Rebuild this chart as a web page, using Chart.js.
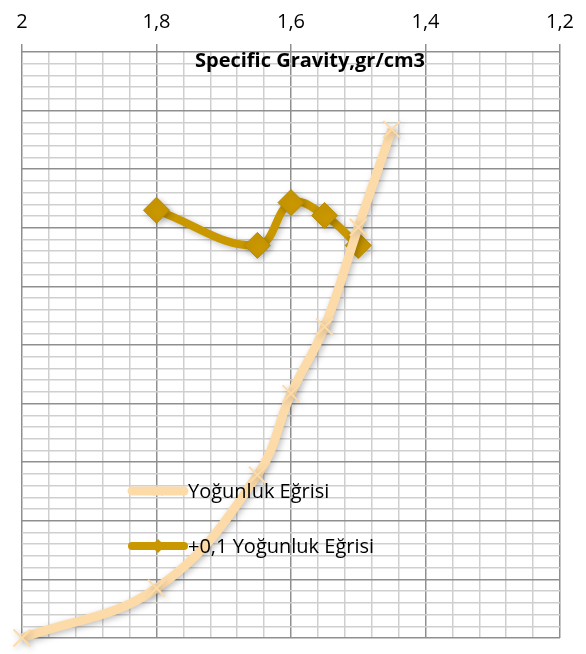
<!DOCTYPE html>
<html>
<head>
<meta charset="utf-8">
<script src="https://cdn.jsdelivr.net/npm/chart.js@4/dist/chart.umd.min.js"></script>
<style>
  body { margin: 0; background: #fff; }
  canvas { display: block; }
</style>
</head>
<body>
<canvas id="sgChart" width="586" height="654"></canvas>
<script>
// series names and values
const seriesNames = ['Yoğunluk Eğrisi', '+0,1 Yoğunluk Eğrisi'];
const densityX = [2, 1.8, 1.65, 1.6, 1.55, 1.5, 1.45];
const densityY = [0, 8.5, 27.8, 41.7, 53.1, 70.1, 86.8];
const plusX = [1.8, 1.65, 1.6, 1.55, 1.5];
const plusY = [73, 67, 74.3, 72.1, 67];
const xTicks = [2, 1.8, 1.6, 1.4, 1.2];
const axisTitle = 'Specific Gravity,gr/cm3';

const peach = '#FDDBA9';
const gold = '#C99700';
const majorGrid = '#8f8f8f';
const minorGrid = '#cfcfcf';

function isMajorX(v) {
  return xTicks.some(t => Math.abs(t - v) < 1e-6);
}

function toPoints(xs, ys) {
  return xs.map((x, i) => ({ x: x, y: ys[i] }));
}

// shadow under the lines and markers
const shadowPlugin = {
  id: 'shadow',
  beforeDatasetsDraw(chart) {
    const ctx = chart.ctx;
    ctx.save();
    ctx.shadowColor = 'rgba(0,0,0,0.25)';
    ctx.shadowBlur = 6;
    ctx.shadowOffsetX = 2;
    ctx.shadowOffsetY = 2;
  },
  afterDatasetsDraw(chart) {
    chart.ctx.restore();
  }
};

// axis title and legend drawn inside the plot area
const overlayPlugin = {
  id: 'overlay',
  afterDraw(chart) {
    const ctx = chart.ctx;
    ctx.save();
    ctx.fillStyle = '#000';
    ctx.font = 'bold 20px "Open Sans"';
    ctx.textAlign = 'center';
    ctx.textBaseline = 'middle';
    ctx.fillText(axisTitle, 310, 61);

    const rows = [
      { y: 491, color: peach, style: 'crossRot', r: 6, width: 9 },
      { y: 546, color: gold, style: 'rectRot', r: 6, width: 8 }
    ];
    rows.forEach((row, i) => {
      ctx.strokeStyle = row.color;
      ctx.lineWidth = row.width;
      ctx.lineCap = 'round';
      ctx.beginPath();
      ctx.moveTo(132, row.y);
      ctx.lineTo(184, row.y);
      ctx.stroke();
      ctx.fillStyle = row.color;
      ctx.strokeStyle = row.color;
      ctx.lineWidth = 1.5;
      Chart.helpers.drawPoint(ctx, { pointStyle: row.style, radius: row.r, rotation: 0, borderWidth: 1.5 }, 158, row.y);
      ctx.fillStyle = '#000';
      ctx.font = '20px "Open Sans"';
      ctx.textAlign = 'left';
      ctx.fillText(seriesNames[i], 188, row.y + 1);
    });
    ctx.restore();
  }
};

const ctx = document.getElementById('sgChart').getContext('2d');

const sgChart = new Chart(ctx, {
  type: 'scatter',
  data: {
    datasets: [{
      label: seriesNames[0],
      data: toPoints(densityX, densityY),
      showLine: true,
      tension: 0.4,
      borderColor: peach,
      borderWidth: 9,
      pointStyle: 'crossRot',
      pointRadius: 12,
      pointBorderWidth: 2,
      pointBorderColor: peach,
      pointBackgroundColor: peach,
      clip: false
    }, {
      label: seriesNames[1],
      data: toPoints(plusX, plusY),
      showLine: true,
      tension: 0.4,
      borderColor: gold,
      borderWidth: 8,
      pointStyle: 'rectRot',
      pointRadius: 13,
      pointBorderWidth: 1,
      pointBorderColor: '#b88a00',
      pointBackgroundColor: gold,
      clip: false
    }]
  },
  options: {
    responsive: false,
    animation: false,
    layout: { padding: { top: 0, left: 22, right: 23, bottom: 16 } },
    plugins: {
      legend: { display: false },
      tooltip: { enabled: false }
    },
    scales: {
      x: {
        type: 'linear',
        position: 'top',
        reverse: true,
        min: 1.2,
        max: 2,
        border: { display: false },
        grid: {
          lineWidth: 1.5,
          tickLength: 8,
          color: c => isMajorX(c.tick.value) ? majorGrid : minorGrid,
          tickColor: c => isMajorX(c.tick.value) ? majorGrid : 'rgba(0,0,0,0)'
        },
        ticks: {
          stepSize: 0.04,
          autoSkip: false,
          maxRotation: 0,
          padding: 12,
          color: '#000',
          font: { family: 'Open Sans', size: 20, lineHeight: 1 },
          callback: v => isMajorX(v) ? String(Math.round(v * 10) / 10).replace('.', ',') : ''
        }
      },
      y: {
        type: 'linear',
        min: 0,
        max: 100,
        border: { display: false },
        grid: {
          lineWidth: 1.5,
          drawTicks: false,
          color: c => c.tick.value % 10 === 0 ? majorGrid : minorGrid
        },
        ticks: { stepSize: 2, display: false }
      }
    }
  },
  plugins: [shadowPlugin, overlayPlugin]
});
</script>
</body>
</html>
